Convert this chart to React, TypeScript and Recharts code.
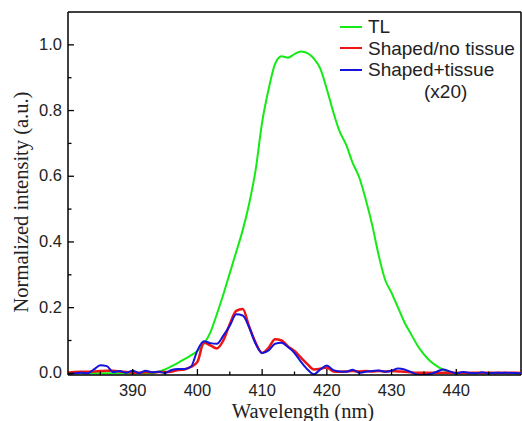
import React from 'react';
import { LineChart, Line, XAxis, YAxis, ReferenceLine } from 'recharts';

const wavelength = [
  380, 381, 382, 383, 384, 385, 386, 387, 388, 389, 390, 391, 392, 393, 394, 395, 396, 397, 398, 399,
  400, 401, 402, 403, 404, 405, 406, 407, 408, 409, 410, 411, 412, 413, 414, 415, 416, 417, 418, 419,
  420, 421, 422, 423, 424, 425, 426, 427, 428, 429, 430, 431, 432, 433, 434, 435, 436, 437, 438, 439,
  440, 441, 442, 443, 444, 445, 446, 447, 448, 449, 450,
];

const tl = [
  0, 0, 0, 0, 0, 0, 0, 0, 0, 0, 0, 0, 0, 0, 0.005, 0.012, 0.022, 0.032, 0.043, 0.055,
  0.068, 0.09, 0.125, 0.18, 0.24, 0.305, 0.37, 0.436, 0.517, 0.62, 0.765, 0.865, 0.942, 0.965, 0.961, 0.972, 0.98, 0.975, 0.958, 0.927,
  0.865, 0.795, 0.735, 0.695, 0.64, 0.597, 0.53, 0.452, 0.36, 0.285, 0.245, 0.2, 0.155, 0.12, 0.085, 0.058, 0.037, 0.022, 0.011, 0.004,
  0, 0, 0, 0, 0, 0, 0, 0, 0, 0, 0,
];

const shapedNoTissue = [
  0.002, 0.004, 0.005, 0.005, 0.006, 0.007, 0.008, 0.008, 0.006, 0.004, 0.002, 0.002, 0.003, 0.003, 0.004, 0.004, 0.005, 0.01, 0.012, 0.02,
  0.035, 0.093, 0.085, 0.076, 0.1, 0.15, 0.19, 0.196, 0.142, 0.093, 0.062, 0.078, 0.104, 0.1, 0.082, 0.068, 0.048, 0.028, 0.012, 0.014,
  0.018, 0.006, 0.005, 0.006, 0.007, 0.006, 0.007, 0.006, 0.007, 0.006, 0.007, 0.006, 0.005, 0.003, 0.002, 0.002, 0.002, 0.002, 0.002, 0.002,
  0.001, 0.002, 0.001, 0.002, 0.001, 0.002, 0.001, 0.002, 0.001, 0.002, 0.001,
];

const shapedTissue = [
  -0.003, 0, 0.002, 0, 0.012, 0.025, 0.022, 0.004, 0.007, 0.002, 0.008, 0.001, 0.008, 0.003, 0.005, 0.001, 0.01, 0.013, 0.013, 0.02,
  0.07, 0.098, 0.092, 0.09, 0.115, 0.145, 0.18, 0.176, 0.14, 0.09, 0.062, 0.07, 0.09, 0.093, 0.08, 0.062, 0.035, 0.012, -0.003, 0.012,
  0.024, 0.01, 0.006, 0.005, 0.011, 0.002, 0.005, 0.007, 0.009, 0.005, 0.008, 0.015, 0.012, 0.004, -0.004, -0.005, -0.002, 0.005, 0.012, 0.006,
  0, 0.004, 0.002, 0, 0.003, 0, 0.002, 0.001, 0.002, 0.001, 0,
];

const xTicks = [385, 390, 395, 400, 405, 410, 415, 420, 425, 430, 435, 440, 445];
const yTicks = [0, 0.1, 0.2, 0.3, 0.4, 0.5, 0.6, 0.7, 0.8, 0.9, 1.0];

const seriesNames = ['TL', 'Shaped/no tissue', 'Shaped+tissue'];
const seriesColors = ['#14ea14', '#ee1414', '#1414dc'];

const data = wavelength.map((w, i) => ({
  w,
  tl: tl[i],
  noTissue: shapedNoTissue[i],
  tissue: shapedTissue[i],
}));

const tickFont = { fontFamily: '"Liberation Sans", Arial, sans-serif', fontSize: 16.5, fill: '#222' };
const titleFont = { fontFamily: '"Liberation Serif", "Times New Roman", serif', fontSize: 20.5, fill: '#222' };

const XTick = (props: any) => {
  const { x, y, payload } = props;
  const major = Math.round(payload.value) % 10 === 0;
  return (
    <g>
      <line x1={x} x2={x} y1={y} y2={y - (major ? 6 : 3.5)} stroke="#000" strokeWidth={1.3} />
      {major && (
        <text x={x} y={y + 21} textAnchor="middle" {...tickFont}>
          {payload.value}
        </text>
      )}
    </g>
  );
};

const YTick = (props: any) => {
  const { x, y, payload } = props;
  const major = Math.round(payload.value * 10) % 2 === 0;
  return (
    <g>
      <line x1={x} x2={x + (major ? 6 : 3.5)} y1={y} y2={y} stroke="#000" strokeWidth={1.3} />
      {major && (
        <text x={x - 6} y={y + 5} textAnchor="end" {...tickFont}>
          {payload.value.toFixed(1)}
        </text>
      )}
    </g>
  );
};

const ChartLegend = () => {
  const row = { display: 'flex', alignItems: 'center', height: 21.5 };
  return (
    <div
      style={{
        position: 'absolute',
        top: 16,
        left: 338,
        fontFamily: '"Liberation Sans", Arial, sans-serif',
        fontSize: 19,
        color: '#222',
        lineHeight: '21.5px',
      }}
    >
      {seriesNames.map((name, i) => (
        <div key={name} style={row}>
          <svg width={30} height={4}>
            <line x1={2} x2={24} y1={2} y2={2} stroke={seriesColors[i]} strokeWidth={2} />
          </svg>
          <span>{name}</span>
        </div>
      ))}
      <div style={{ ...row, paddingLeft: 86 }}>(x20)</div>
    </div>
  );
};

export default function App() {
  return (
    <div style={{ position: 'absolute', left: 0, top: 0, width: 522, height: 421, background: '#fff' }}>
      <LineChart width={522} height={421} data={data} margin={{ top: 12, right: 1, bottom: 16, left: 8 }}>
        <XAxis
          dataKey="w"
          type="number"
          domain={[380, 450]}
          ticks={xTicks}
          interval={0}
          tickLine={false}
          tickSize={0}
          tickMargin={0}
          tick={<XTick />}
          height={30}
          axisLine={{ stroke: '#000', strokeWidth: 1.5 }}
          allowDataOverflow
          label={{
            content: () => (
              <text x={303} y={418} textAnchor="middle" {...titleFont}>
                Wavelength (nm)
              </text>
            ),
          }}
        />
        <YAxis
          type="number"
          domain={[-0.005, 1.1]}
          ticks={yTicks}
          interval={0}
          tickLine={false}
          tickSize={0}
          tickMargin={0}
          tick={<YTick />}
          width={60}
          axisLine={{ stroke: '#000', strokeWidth: 1.5 }}
          allowDataOverflow
          label={{
            content: () => (
              <text x={0} y={0} transform="translate(28,202) rotate(-90)" textAnchor="middle" {...titleFont}>
                Normalized intensity (a.u.)
              </text>
            ),
          }}
        />
        <ReferenceLine y={1.1} stroke="#000" strokeWidth={1.5} />
        <ReferenceLine x={450} stroke="#000" strokeWidth={1.5} />
        <Line type="monotone" dataKey="tl" name={seriesNames[0]} stroke={seriesColors[0]} strokeWidth={2} dot={false} isAnimationActive={false} />
        <Line type="monotone" dataKey="noTissue" name={seriesNames[1]} stroke={seriesColors[1]} strokeWidth={2.5} dot={false} isAnimationActive={false} />
        <Line type="monotone" dataKey="tissue" name={seriesNames[2]} stroke={seriesColors[2]} strokeWidth={2} dot={false} isAnimationActive={false} />
      </LineChart>
      <ChartLegend />
    </div>
  );
}
